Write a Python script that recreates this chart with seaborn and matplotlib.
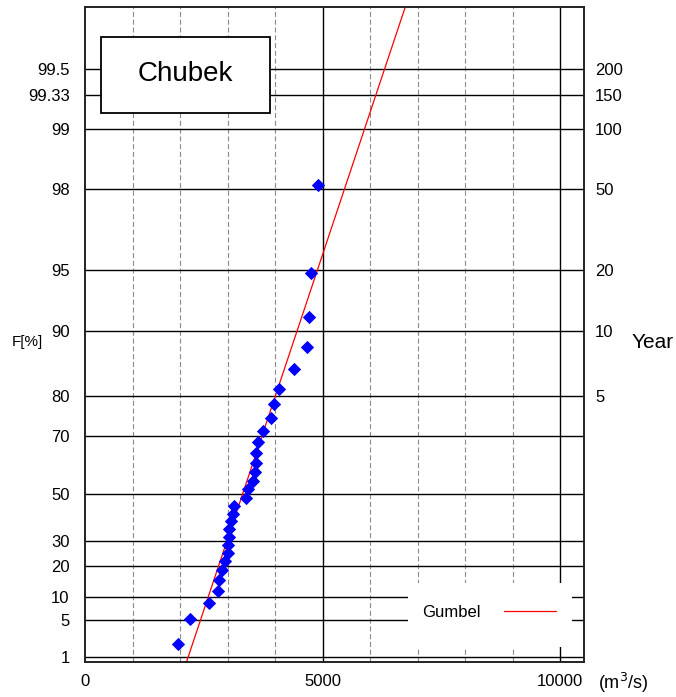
import numpy as np
import pandas as pd
import matplotlib
matplotlib.use("Agg")
import matplotlib.pyplot as plt
from matplotlib.patches import Rectangle
import seaborn as sns

# ---- data ----
discharge = [1962, 2209, 2616, 2791, 2827, 2890, 2954, 3002, 3006, 3023,
             3038, 3074, 3108, 3143, 3390, 3424, 3544, 3586, 3591, 3597,
             3639, 3741, 3918, 3987, 4072, 4395, 4669, 4705, 4747, 4901]
prob_pct = [1.9, 5.2, 8.5, 11.8, 15.1, 18.5, 21.8, 25.1, 28.4, 31.7,
            35.1, 38.4, 41.7, 45.0, 48.3, 51.7, 55.0, 58.3, 61.6, 64.9,
            68.3, 71.6, 74.9, 78.2, 81.5, 84.9, 88.2, 91.5, 94.8, 98.1]
gumbel_loc = 3097.0
gumbel_scale = 605.0

left_ticks = [1, 5, 10, 20, 30, 50, 70, 80, 90, 95, 98, 99, 99.33, 99.5]
left_labels = ["1", "5", "10", "20", "30", "50", "70", "80", "90", "95", "98", "99", "99.33", "99.5"]
right_ticks = [80, 90, 95, 98, 99, 99.33, 99.5]
right_labels = ["5", "10", "20", "50", "100", "150", "200"]
x_ticks = [0, 5000, 10000]
x_labels = ["0", "5000", "10000"]
dashed_x = [1000, 2000, 3000, 4000, 6000, 7000, 8000, 9000]
solid_x = [5000, 10000]

# ---- style ----
sns.set_theme(style="white")
plt.rcParams["font.family"] = ["Liberation Sans", "DejaVu Sans"]
plt.rcParams["text.color"] = "black"
plt.rcParams["xtick.color"] = "black"
plt.rcParams["ytick.color"] = "black"
plt.rcParams["axes.labelcolor"] = "black"

def fwd(p):
    p = np.clip(np.asarray(p, dtype=float) / 100.0, 1e-12, 1 - 1e-12)
    return -np.log(-np.log(p))

def inv(y):
    return 100.0 * np.exp(-np.exp(-np.asarray(y, dtype=float)))

fig = plt.figure(figsize=(6.76, 6.97), dpi=100)
ax = fig.add_axes([85 / 676, 1 - 662 / 697, 499 / 676, 655 / 697])
ax.set_yscale("function", functions=(fwd, inv))
ax.set_xlim(0, 10500)
ax.set_ylim(float(inv(-1.589)), float(inv(6.020)))

# grid lines
for xv in dashed_x:
    ax.axvline(xv, color="#8a8a8a", lw=0.8, ls=(0, (4.5, 2.5)), zorder=1)
for xv in solid_x:
    ax.axvline(xv, color="black", lw=1.0, zorder=1)
for yv in left_ticks:
    ax.axhline(yv, color="black", lw=1.0, zorder=1)

# Gumbel fitted line
yv = np.linspace(-1.7, 6.2, 200)
line_df = pd.DataFrame({"Q": gumbel_loc + gumbel_scale * yv, "F": inv(yv)})
sns.lineplot(data=line_df, x="Q", y="F", color="red", lw=0.9, ax=ax,
             sort=False, zorder=4, label="Gumbel", legend=False)

# observed points
pts = pd.DataFrame({"Q": discharge, "F": prob_pct})
sns.scatterplot(data=pts, x="Q", y="F", marker="D", s=46, color="#0000ff",
                edgecolor="#0000ff", linewidth=0, ax=ax, zorder=5)

# title box
ax.add_patch(Rectangle((16 / 499, 1 - 106 / 655), 169 / 499, 76 / 655,
                       transform=ax.transAxes, facecolor="white",
                       edgecolor="black", lw=1.3, zorder=6))
ax.text((185.5 - 85) / 499, 1 - (74 - 7) / 655, "Chubek",
        transform=ax.transAxes, ha="center", va="center", fontsize=20,
        color="black", zorder=7)

# legend area
ax.add_patch(Rectangle((323 / 499, 1 - 640 / 655), 164 / 499, 64 / 655,
                       transform=ax.transAxes, facecolor="white",
                       edgecolor="none", zorder=6))
h, l = ax.get_legend_handles_labels()
leg = ax.legend(h[:1], ["Gumbel"], loc="center left",
                bbox_to_anchor=((422 - 85) / 499, 1 - (612.7 - 7) / 655),
                frameon=False, markerfirst=False, handlelength=3.1,
                handletextpad=1.4, borderpad=0, borderaxespad=0, fontsize=12)
leg.set_zorder(8)

# axes ticks
ax.set_xticks(x_ticks)
ax.set_xticklabels(x_labels, fontsize=12)
ax.set_yticks(left_ticks)
ax.set_yticklabels(left_labels, fontsize=12)
ax.tick_params(axis="x", length=0, pad=9)
ax.tick_params(axis="y", length=0, pad=11)
ax.set_xlabel("")
ax.set_ylabel("")

ax2 = ax.twinx()
ax2.set_yscale("function", functions=(fwd, inv))
ax2.set_ylim(ax.get_ylim())
ax2.set_yticks(right_ticks)
ax2.set_yticklabels(right_labels, fontsize=12)
ax2.tick_params(axis="y", length=0, pad=8)
ax2.grid(False)

for a in (ax, ax2):
    for s in a.spines.values():
        s.set_color("#222222")
        s.set_linewidth(1.2)
ax.grid(False)

fig.text(12 / 676, 1 - 342 / 697, "F[%]", fontsize=11, ha="left", va="center")
fig.text(632 / 676, 1 - 342 / 697, "Year", fontsize=15, ha="left", va="center")
fig.text(598 / 676, 1 - 683 / 697, "(m$^3$/s)", fontsize=13, ha="left", va="center")

fig.savefig("out.png", dpi=100)
